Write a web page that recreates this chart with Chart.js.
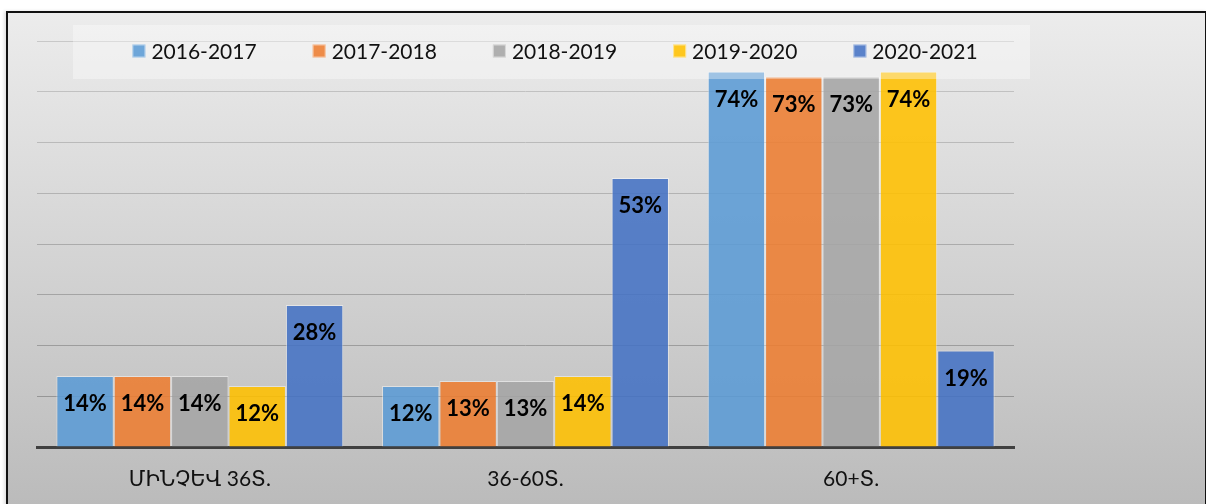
<!DOCTYPE html>
<html>
<head>
<meta charset="utf-8">
<script src="https://cdn.jsdelivr.net/npm/chart.js@4"></script>
<style>
  html, body { margin: 0; padding: 0; background: #fff; }
  body { width: 1206px; height: 504px; position: relative; overflow: hidden; }
  #frame {
    position: absolute; left: 6px; top: 11px; width: 1197px; height: 520px;
    border: 2px solid #111;
    background: linear-gradient(to bottom, #ececec 0px, #bbbbbb 493px);
    box-shadow: -2px 0 3px rgba(0,0,0,0.12);
  }
  #chart { position: absolute; left: 0; top: 0; }
</style>
</head>
<body>
<div id="frame"></div>
<canvas id="chart" width="1206" height="504"></canvas>
<script>
// Chart data
const categories = ["ՄԻՆՉԵՎ 36Տ.", "36-60Տ.", "60+Տ."];
const seasons = ["2016-2017", "2017-2018", "2018-2019", "2019-2020", "2020-2021"];
const share2016 = [14, 12, 74];
const share2017 = [14, 13, 73];
const share2018 = [14, 13, 73];
const share2019 = [12, 14, 74];
const share2020 = [28, 53, 19];
const yTicks = [0, 10, 20, 30, 40, 50, 60, 70, 80];

const seriesValues = [share2016, share2017, share2018, share2019, share2020];
const seriesColors = [
  "rgba(91,155,213,0.88)",
  "rgba(237,125,49,0.88)",
  "rgba(165,165,165,0.88)",
  "rgba(255,192,0,0.88)",
  "rgba(68,114,196,0.88)"
];

const FONT = "Lato, 'DejaVu Sans', sans-serif";

// grid lines get lighter towards the top, like the gradient fill
function gridColor(ctx) {
  const v = ctx.tick ? ctx.tick.value : 0;
  const t = Math.min(1, Math.max(0, (v - 10) / 70));
  const c = Math.round(150 + t * (200 - 150));
  return "rgb(" + c + "," + c + "," + c + ")";
}

// legend box + value labels drawn on top of the bars
const overlayPlugin = {
  id: "overlay",
  afterDatasetsDraw(chart) {
    const ctx = chart.ctx;
    ctx.save();

    // semi-transparent legend panel
    const box = { left: 73, top: 25, right: 1030, bottom: 79 };
    ctx.fillStyle = "rgba(255,255,255,0.35)";
    ctx.fillRect(box.left, box.top, box.right - box.left, box.bottom - box.top);

    ctx.font = "21px " + FONT;
    ctx.textBaseline = "middle";
    const sq = 13, gapText = 6, gapItem = 56;
    const widths = chart.data.datasets.map(d => ctx.measureText(d.label).width);
    let total = 0;
    widths.forEach((w, i) => { total += sq + gapText + w + (i < widths.length - 1 ? gapItem : 0); });
    let x = 555 - total / 2;
    const cy = 51;
    chart.data.datasets.forEach((d, i) => {
      ctx.fillStyle = d.backgroundColor;
      ctx.fillRect(x, cy - sq / 2, sq, sq);
      ctx.strokeStyle = "rgba(255,255,255,0.5)";
      ctx.lineWidth = 1;
      ctx.strokeRect(x + 0.5, cy - sq / 2 + 0.5, sq - 1, sq - 1);
      ctx.fillStyle = "#111";
      ctx.textAlign = "left";
      ctx.fillText(d.label, x + sq + gapText, cy + 1);
      x += sq + gapText + widths[i] + gapItem;
    });

    // value labels, inside end of each bar
    ctx.font = "bold 22px " + FONT;
    ctx.textAlign = "center";
    ctx.fillStyle = "#000";
    chart.data.datasets.forEach((d, i) => {
      const meta = chart.getDatasetMeta(i);
      meta.data.forEach((bar, j) => {
        ctx.fillText(d.data[j] + "%", bar.x, bar.y + 28);
      });
    });
    ctx.restore();
  }
};

new Chart(document.getElementById("chart"), {
  type: "bar",
  data: {
    labels: categories,
    datasets: seasons.map((s, i) => ({
      label: s,
      data: seriesValues[i],
      backgroundColor: seriesColors[i],
      borderColor: "rgba(255,255,255,0.45)",
      borderWidth: 1,
      categoryPercentage: 0.881,
      barPercentage: 1
    }))
  },
  options: {
    responsive: false,
    animation: false,
    devicePixelRatio: 1,
    layout: { padding: { left: 37, right: 192, top: 41, bottom: 0 } },
    plugins: {
      legend: { display: false },
      tooltip: { enabled: false }
    },
    scales: {
      x: {
        z: 1,
        grid: { display: false, drawTicks: false },
        border: { display: true, color: "#404040", width: 3 },
        ticks: { color: "#111", padding: 20, font: { family: FONT, size: 21 } },
        afterFit(scale) { scale.height = 57; }
      },
      y: {
        min: yTicks[0],
        max: yTicks[yTicks.length - 1],
        afterBuildTicks(scale) { scale.ticks = yTicks.map(v => ({ value: v })); },
        ticks: { display: false },
        grid: { color: gridColor, lineWidth: 1, drawTicks: false },
        border: { display: false },
        afterFit(scale) { scale.width = 0; }
      }
    }
  },
  plugins: [overlayPlugin]
});
</script>
</body>
</html>
